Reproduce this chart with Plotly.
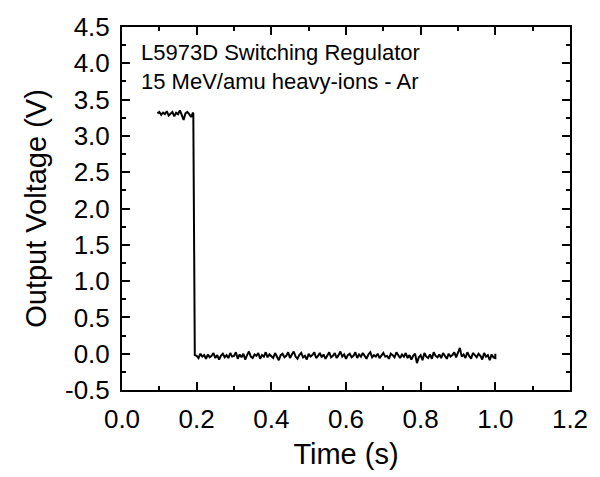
import plotly.graph_objects as go

# Upper (regulating) segment
t_high = [0.095, 0.100, 0.105, 0.110, 0.115, 0.120, 0.125, 0.130, 0.135, 0.140,
          0.145, 0.150, 0.155, 0.160, 0.165, 0.170, 0.175, 0.180, 0.185, 0.190,
          0.191]
v_high = [3.31, 3.33, 3.29, 3.32, 3.30, 3.34, 3.28, 3.31, 3.33, 3.27,
          3.32, 3.30, 3.35, 3.29, 3.22, 3.31, 3.33, 3.30, 3.26, 3.32,
          3.31]

# Lower (after the event) segment
t_low = [0.195,
         0.200, 0.205, 0.210, 0.215, 0.220, 0.225, 0.230, 0.235, 0.240, 0.245,
         0.250, 0.255, 0.260, 0.265, 0.270, 0.275, 0.280, 0.285, 0.290, 0.295,
         0.300, 0.305, 0.310, 0.315, 0.320, 0.325, 0.330, 0.335, 0.340, 0.345,
         0.350, 0.355, 0.360, 0.365, 0.370, 0.375, 0.380, 0.385, 0.390, 0.395,
         0.400, 0.405, 0.410, 0.415, 0.420, 0.425, 0.430, 0.435, 0.440, 0.445,
         0.450, 0.455, 0.460, 0.465, 0.470, 0.475, 0.480, 0.485, 0.490, 0.495,
         0.500, 0.505, 0.510, 0.515, 0.520, 0.525, 0.530, 0.535, 0.540, 0.545,
         0.550, 0.555, 0.560, 0.565, 0.570, 0.575, 0.580, 0.585, 0.590, 0.595,
         0.600, 0.605, 0.610, 0.615, 0.620, 0.625, 0.630, 0.635, 0.640, 0.645,
         0.650, 0.655, 0.660, 0.665, 0.670, 0.675, 0.680, 0.685, 0.690, 0.695,
         0.700, 0.705, 0.710, 0.715, 0.720, 0.725, 0.730, 0.735, 0.740, 0.745,
         0.750, 0.755, 0.760, 0.765, 0.770, 0.775, 0.780, 0.785, 0.790, 0.795,
         0.800, 0.805, 0.810, 0.815, 0.820, 0.825, 0.830, 0.835, 0.840, 0.845,
         0.850, 0.855, 0.860, 0.865, 0.870, 0.875, 0.880, 0.885, 0.890, 0.895,
         0.900, 0.905, 0.910, 0.915, 0.920, 0.925, 0.930, 0.935, 0.940, 0.945,
         0.950, 0.955, 0.960, 0.965, 0.970, 0.975, 0.980, 0.985, 0.990, 0.995,
         1.000, 1.000]
v_low = [-0.02,
         -0.03, -0.06, 0.00, -0.04, -0.02, -0.07, -0.01, -0.05, -0.03, 0.01,
         -0.06, -0.02, -0.08, -0.03, 0.00, -0.05, -0.02, -0.06, 0.01, -0.04,
         -0.03, 0.02, -0.07, -0.01, -0.05, 0.00, -0.08, -0.02, 0.03, -0.04,
         -0.06, -0.01, -0.03, 0.01, -0.07, -0.02, -0.04, 0.02, -0.05, -0.01,
         -0.03, -0.06, 0.01, -0.04, -0.09, -0.02, 0.00, -0.05, -0.03, 0.02,
         -0.06, -0.01, 0.03, -0.04, -0.07, -0.02, 0.01, -0.05, -0.03, -0.08,
         0.00, -0.04, -0.02, 0.02, -0.06, -0.03, 0.01, -0.05, -0.01, -0.07,
         -0.02, 0.02, -0.05, -0.03, 0.01, -0.06, -0.02, 0.03, -0.04, -0.01,
         -0.07, -0.02, 0.00, -0.05, -0.03, 0.02, -0.06, -0.01, -0.04, 0.01,
         -0.03, -0.07, -0.01, 0.02, -0.05, -0.02, -0.04, 0.00, -0.06, -0.02,
         0.01, -0.04, -0.03, -0.07, 0.00, -0.02, -0.05, 0.02, -0.03, -0.06,
         -0.01, -0.04, 0.01, -0.06, -0.02, -0.08, -0.03, 0.00, -0.13, -0.05,
         -0.02, -0.09, 0.01, -0.04, -0.06, -0.01, -0.07, 0.02, -0.03, -0.05,
         -0.01, -0.06, 0.01, -0.03, -0.07, 0.00, -0.04, -0.02, 0.02, -0.05,
         0.03, 0.08, -0.04, -0.01, -0.06, 0.02, -0.03, -0.07, 0.01, -0.02,
         -0.05, 0.00, -0.03, -0.08, 0.01, -0.04, -0.02, -0.09, -0.01, -0.05,
         -0.06, 0.00]

times = t_high + t_low
volts = v_high + v_low

x_ticks = [0.0, 0.2, 0.4, 0.6, 0.8, 1.0, 1.2]
x_labels = ["0.0", "0.2", "0.4", "0.6", "0.8", "1.0", "1.2"]
y_ticks = [-0.5, 0.0, 0.5, 1.0, 1.5, 2.0, 2.5, 3.0, 3.5, 4.0, 4.5]
y_labels = ["-0.5", "0.0", "0.5", "1.0", "1.5", "2.0", "2.5", "3.0", "3.5", "4.0", "4.5"]

title_lines = ["L5973D Switching Regulator", "15 MeV/amu heavy-ions - Ar"]

FONT = "Liberation Sans, Arial, sans-serif"

fig = go.Figure()
fig.add_trace(go.Scatter(x=times, y=volts, mode="lines",
                         line=dict(color="black", width=2),
                         showlegend=False, hoverinfo="skip"))

axis_common = dict(
    showgrid=False, zeroline=False, showline=True, linecolor="black", linewidth=2,
    mirror="allticks", ticks="inside", ticklen=8, tickwidth=2, tickcolor="black",
    tickfont=dict(family=FONT, size=26, color="black"),
    ticklabeloverflow="allow",
)

fig.update_xaxes(range=[0.0, 1.2], tickvals=x_ticks, ticktext=x_labels,
                 ticklabelstandoff=5,
                 minor=dict(ticks="inside", ticklen=4, tickwidth=2,
                            tickcolor="black", dtick=0.1, showgrid=False),
                 title=dict(text="Time (s)", font=dict(family=FONT, size=29, color="black"),
                            standoff=10),
                 **axis_common)
fig.update_yaxes(range=[-0.5, 4.5], tickvals=y_ticks, ticktext=y_labels,
                 ticklabelstandoff=5,
                 minor=dict(ticks="inside", ticklen=4, tickwidth=2,
                            tickcolor="black", dtick=0.25, showgrid=False),
                 title=dict(text="Output Voltage (V)", font=dict(family=FONT, size=29, color="black"),
                            standoff=10),
                 **axis_common)

for i, line in enumerate(title_lines):
    fig.add_annotation(text=line, xref="paper", yref="paper",
                       x=0.039, y=0.930 - 0.081 * i, xanchor="left", yanchor="middle",
                       showarrow=False, font=dict(family=FONT, size=22, color="black"))

fig.update_layout(width=600, height=477, plot_bgcolor="white", paper_bgcolor="white",
                  margin=dict(l=122, r=20, t=21, b=85))

# remove the default 8 px page margin so the figure fills the window exactly
fig.write_html("out.html", config={"displayModeBar": False},
               post_script="document.body.style.margin='0';document.body.style.overflow='hidden';")
